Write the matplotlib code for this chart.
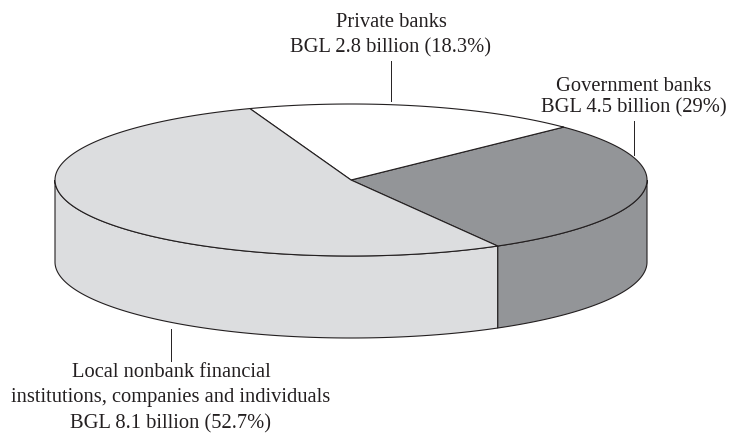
import numpy as np
import matplotlib.pyplot as plt
from matplotlib.patches import Polygon

# Holdings of government securities by holder group
names = ['Government banks', 'Private banks',
         'Local nonbank financial\ninstitutions, companies and individuals']
amounts = [4.5, 2.8, 8.1]          # BGL billion
shares = [29.0, 18.3, 52.7]        # percent
colors = ['#939598', '#ffffff', '#dcdddf']

# Ellipse geometry of the tilted pie (axes units = pixels)
cx, cy = 351, 181
rx, ry = 296, 76
depth = 82
start = -60.3
edge = '#231f20'
lw = 0.8


def rim(t0, t1, n=200):
    t = np.radians(np.linspace(t0, t1, n))
    return cx + rx * np.cos(t), cy - ry * np.sin(t)


fig = plt.figure(figsize=(7.3, 4.35), dpi=100)
ax = fig.add_axes([0, 0, 1, 1])
ax.set_xlim(0, 730)
ax.set_ylim(435, 0)
ax.axis('off')

bounds = start + np.concatenate([[0], np.cumsum(shares)]) * 3.6

# front side walls (lower half of the rim only)
for i, c in enumerate(colors):
    t0, t1 = bounds[i], bounds[i + 1]
    # map to 180..360 window
    segs = []
    for k in (0, 360):
        a, b = max(t0 + k, 180), min(t1 + k, 360)
        if a < b:
            segs.append((a, b))
    for a, b in segs:
        x, y = rim(a, b)
        px = np.concatenate([x, x[::-1]])
        py = np.concatenate([y, y[::-1] + depth])
        ax.add_patch(Polygon(np.column_stack([px, py]), closed=True,
                             facecolor=c, edgecolor=edge, lw=lw, zorder=1))

# top face wedges
for i, c in enumerate(colors):
    x, y = rim(bounds[i], bounds[i + 1])
    px = np.concatenate([[cx], x])
    py = np.concatenate([[cy], y])
    ax.add_patch(Polygon(np.column_stack([px, py]), closed=True,
                         facecolor=c, edgecolor=edge, lw=lw, zorder=2,
                         joinstyle='round'))

# labels with leader lines
font = dict(family='Liberation Serif', fontsize=14.8, color='#231f20')
lab_x = [634, 391, 171]
lab_base = [[91, 112.5], [27, 52], [377, 402, 428]]
leaders = [(122, 156), (62, 102), (330, 362)]

for i, name in enumerate(names):
    lines = name.split('\n') + [f'BGL {amounts[i]} billion ({shares[i]:g}%)']
    for txt, yb in zip(lines, lab_base[i]):
        ax.text(lab_x[i], yb, txt, ha='center', va='baseline', **font)
    y0, y1 = leaders[i]
    ax.plot([lab_x[i], lab_x[i]], [y0, y1], color=edge, lw=0.7, zorder=3)

fig.savefig('out.png', dpi=100)
